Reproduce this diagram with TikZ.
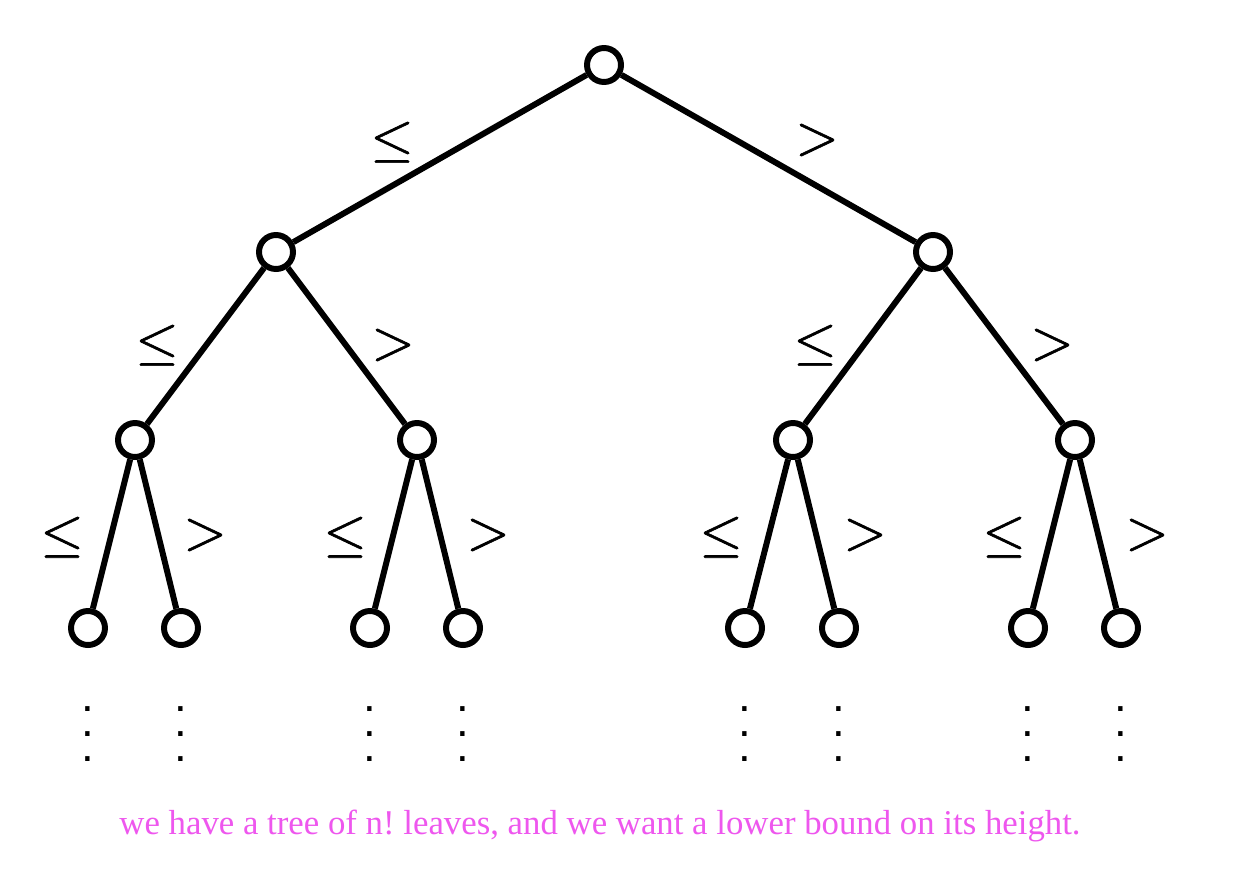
\documentclass[tikz,border=0pt]{standalone}
\usepackage{fontspec}
\setmainfont{Liberation Serif}
\newfontfamily\dotfont{Liberation Sans}
\newfontfamily\relfont{latinmodern-math.otf}[FakeBold=1.2]
\usetikzlibrary{positioning}
\definecolor{notecol}{RGB}{238,87,238}

\begin{document}
\begin{tikzpicture}[x=0.02cm,y=-0.02cm,
  vert/.style={circle,draw,fill=white,line width=3.4pt,minimum size=0.68cm,inner sep=0pt},
  lbl/.style={inner sep=0pt,font=\relfont\fontsize{31}{33}\selectfont},
  ldots/.style={inner sep=0pt,align=center,font=\dotfont\fontsize{26}{14.2}\selectfont}]
  \useasboundingbox (0,0) rectangle (1244,872);

  % the tree
  \node[vert] (r) at (604,65) {};
  \node[vert] (a) at (276,252) {};
  \node[vert] (b) at (933,252) {};
  \node[vert] (aa) at (135,440) {};
  \node[vert] (ab) at (417,440) {};
  \node[vert] (ba) at (793,440) {};
  \node[vert] (bb) at (1075,440) {};
  \node[vert] (aaa) at (88,628) {};
  \node[vert] (aab) at (181,628) {};
  \node[vert] (aba) at (370,628) {};
  \node[vert] (abb) at (463,628) {};
  \node[vert] (baa) at (745,628) {};
  \node[vert] (bab) at (839,628) {};
  \node[vert] (bba) at (1028,628) {};
  \node[vert] (bbb) at (1121,628) {};

  \begin{scope}[on background layer/.try]
  \foreach \a/\b in {r/a,r/b,a/aa,a/ab,b/ba,b/bb,aa/aaa,aa/aab,ab/aba,ab/abb,
                     ba/baa,ba/bab,bb/bba,bb/bbb} {
    \draw[line width=3.4pt] (\a) -- (\b);
  }
  \end{scope}

  % comparison labels
  \node[lbl] (l1) at (392,142) {≤};
  \node[lbl] (g1) at (817,140) {>};
  \node[lbl] (l2) at (157,345) {≤};
  \node[lbl] (g2) at (393,345) {>};
  \node[lbl] (l3) at (815,345) {≤};
  \node[lbl] (g3) at (1052,345) {>};
  \foreach \x/\n in {62/1,345/2,721/3,1004/4} {
    \node[lbl] (ll\n) at (\x,537) {≤};
  }
  \foreach \x/\n in {205/1,488/2,865/3,1147/4} {
    \node[lbl] (gg\n) at (\x,535) {>};
  }

  % the tree goes on
  \foreach \v in {aaa,aab,aba,abb,baa,bab,bba,bbb} {
    \node[ldots,below=33pt of \v] (d\v) {.\\.\\.};
  }

  \node[text=notecol,font=\frenchspacing\fontsize{19.8}{22}\selectfont] (note) at (600,826)
    {we have a tree of n! leaves, and we want a lower bound on its height.};
\end{tikzpicture}
\end{document}
